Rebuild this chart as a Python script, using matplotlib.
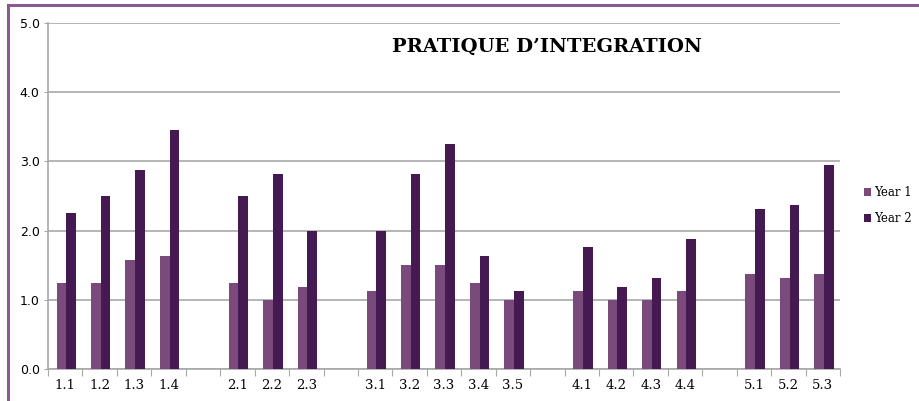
import numpy as np
import matplotlib.pyplot as plt
from matplotlib.lines import Line2D

# categories (empty string = gap between groups)
labels = ['1.1', '1.2', '1.3', '1.4', '',
          '2.1', '2.2', '2.3', '',
          '3.1', '3.2', '3.3', '3.4', '3.5', '',
          '4.1', '4.2', '4.3', '4.4', '',
          '5.1', '5.2', '5.3']
year1 = [1.25, 1.25, 1.57, 1.63, np.nan,
         1.25, 1.00, 1.19, np.nan,
         1.13, 1.50, 1.50, 1.25, 1.00, np.nan,
         1.13, 1.00, 1.00, 1.13, np.nan,
         1.38, 1.31, 1.38]
year2 = [2.25, 2.50, 2.88, 3.45, np.nan,
         2.50, 2.82, 2.00, np.nan,
         2.00, 2.82, 3.25, 1.63, 1.13, np.nan,
         1.76, 1.19, 1.31, 1.88, np.nan,
         2.31, 2.37, 2.95]
yticks = [0, 1, 2, 3, 4, 5]

c1 = '#7a4a7c'
c2 = '#451a53'
frame_col = '#8c5a8e'

fig = plt.figure(figsize=(9.19, 4.01), dpi=100)
ax = fig.add_axes([0.0522, 0.0798, 0.862, 0.8628])

x = np.arange(len(labels))
w = 0.28
ax.bar(x - w / 2 + 0.03, year1, w, color=c1, label='Year 1', zorder=3)
ax.bar(x + w / 2 + 0.03, year2, w, color=c2, label='Year 2', zorder=3)

ax.set_xlim(-0.5, len(labels) - 0.5)
ax.set_ylim(0, 5)
ax.set_yticks(yticks)
ax.set_yticklabels([f'{v:.1f}' for v in yticks], fontsize=9, family='DejaVu Sans')
ax.yaxis.grid(True, color='#a8a8a8', linewidth=1.2, zorder=0)

# labels in the centre of slots, tick marks on slot boundaries
ax.set_xticks(np.arange(-0.5, len(labels), 1))
ax.set_xticklabels([])
ax.set_xticks(x, minor=True)
ax.set_xticklabels(labels, minor=True, fontsize=9.5, family='DejaVu Serif')
ax.tick_params(axis='x', which='major', length=5, color='#a8a8a8')
ax.tick_params(axis='x', which='minor', length=0, pad=7)
ax.tick_params(axis='y', length=3, color='#a8a8a8', pad=3)

for s in ['top', 'right']:
    ax.spines[s].set_visible(False)
for s in ['left', 'bottom']:
    ax.spines[s].set_color('#a8a8a8')
    ax.spines[s].set_linewidth(1.2)

fig.text(0.595, 0.883, 'PRATIQUE D\u2019INTEGRATION', ha='center', va='center',
         fontsize=14, fontweight='bold', family='DejaVu Serif')

leg = fig.legend(loc='upper left', bbox_to_anchor=(0.929, 0.562), frameon=False,
                 handlelength=0.6, handleheight=0.6, handletextpad=0.2,
                 labelspacing=1.1, prop={'family': 'DejaVu Serif', 'size': 8.5})

# purple frame (top and left edges visible)
fig.add_artist(Line2D([0.009, 1.0], [0.987, 0.987], color=frame_col, lw=2.2,
                      transform=fig.transFigure))
fig.add_artist(Line2D([0.009, 0.009], [0.0, 0.987], color=frame_col, lw=2.2,
                      transform=fig.transFigure))

fig.savefig('out.png', dpi=100)
